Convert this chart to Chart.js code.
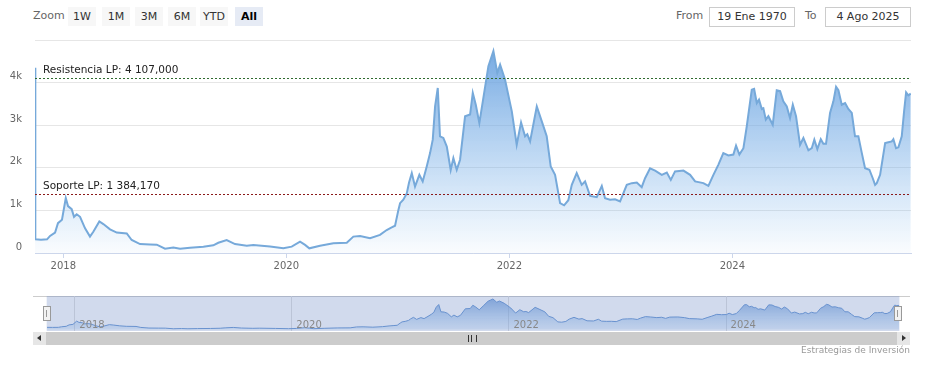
<!DOCTYPE html>
<html>
<head>
<meta charset="utf-8">
<script src="https://cdn.jsdelivr.net/npm/chart.js@4"></script>
<style>
  body { margin: 0; background: #fff; font-family: "DejaVu Sans", Verdana, sans-serif; }
  #wrap { position: relative; width: 925px; height: 365px; overflow: hidden; }
  .abs { position: absolute; }
  .lbl { font-size: 11px; color: #666; }
  .btn { position: absolute; top: 7px; width: 28px; height: 19px; line-height: 19px; text-align: center;
         font-size: 11px; color: #333; background: #f7f7f7; }
  .btn.on { background: #e6ebf5; font-weight: bold; color: #000; }
  .box { position: absolute; top: 7px; height: 18px; line-height: 18px; border: 1px solid #ccc;
         text-align: center; font-size: 11px; color: #333; background: #fff; }
  .handle { position: absolute; top: 306px; width: 6px; height: 13px; background: #f2f2f2; border: 1px solid #999; }
  .handle:after { content: ""; position: absolute; left: 2px; top: 3px; width: 1px; height: 7px;
                  border-left: 1px solid #999; }
</style>
</head>
<body>
<div id="wrap">
  <div class="abs lbl" style="left:33px;top:9px;">Zoom</div>
  <div class="btn" style="left:68px;">1W</div>
  <div class="btn" style="left:102px;">1M</div>
  <div class="btn" style="left:135px;">3M</div>
  <div class="btn" style="left:168px;">6M</div>
  <div class="btn" style="left:200px;">YTD</div>
  <div class="btn on" style="left:235px;">All</div>

  <div class="abs lbl" style="left:676px;top:9px;">From</div>
  <div class="box" style="left:709px;width:84px;">19 Ene 1970</div>
  <div class="abs lbl" style="left:805px;top:9px;">To</div>
  <div class="box" style="left:825px;width:84px;">4 Ago 2025</div>

  <canvas id="main" class="abs" width="925" height="275" style="left:0;top:0;"></canvas>

  <div class="abs" style="left:33px;top:296px;width:877px;height:1px;background:#ccc;"></div>
  <canvas id="nav" class="abs" width="925" height="45" style="left:0;top:290px;"></canvas>
  <div class="handle" style="left:43px;"></div>
  <div class="handle" style="left:894px;"></div>

  <div class="abs" style="left:33px;top:332px;width:877px;height:13px;background:#f2f2f2;"></div>
  <div class="abs" style="left:46px;top:332px;width:851px;height:13px;background:#cccccc;"></div>
  <div class="abs" style="left:468px;top:335px;width:7px;height:7px;border-left:1px solid #333;border-right:1px solid #333;"></div>
  <div class="abs" style="left:471px;top:335px;width:1px;height:7px;background:#333;"></div>
  <div class="abs" style="left:33px;top:332px;width:13px;height:13px;background:#e6e6e6;"></div>
  <div class="abs" style="left:37px;top:335px;width:0;height:0;border-top:3px solid transparent;border-bottom:3px solid transparent;border-right:4px solid #333;"></div>
  <div class="abs" style="left:897px;top:332px;width:13px;height:13px;background:#e6e6e6;"></div>
  <div class="abs" style="left:902px;top:335px;width:0;height:0;border-top:3px solid transparent;border-bottom:3px solid transparent;border-left:4px solid #333;"></div>

  <div class="abs" style="right:15px;top:345px;font-size:9px;color:#999;">Estrategias de Inversión</div>
</div>

<script>
const years = [
  2017.746, 2017.749, 2017.800, 2017.854, 2017.881, 2017.926, 2017.952, 2017.988, 2018.022, 2018.042,
  2018.075, 2018.096, 2018.120, 2018.150, 2018.195, 2018.239, 2018.269, 2018.323, 2018.359, 2018.419,
  2018.479, 2018.569, 2018.613, 2018.688, 2018.778, 2018.838, 2018.912, 2018.987, 2019.047, 2019.136,
  2019.256, 2019.345, 2019.390, 2019.465, 2019.540, 2019.645, 2019.704, 2019.854, 2019.973, 2020.048,
  2020.123, 2020.168, 2020.206, 2020.302, 2020.422, 2020.542, 2020.601, 2020.661, 2020.751, 2020.840,
  2020.900, 2020.945, 2020.975, 2021.004, 2021.020, 2021.049, 2021.080, 2021.100, 2021.125, 2021.154,
  2021.193, 2021.223, 2021.259, 2021.289, 2021.313, 2021.334, 2021.358, 2021.378, 2021.408, 2021.439,
  2021.474, 2021.498, 2021.528, 2021.558, 2021.603, 2021.648, 2021.672, 2021.699, 2021.731, 2021.767,
  2021.812, 2021.857, 2021.892, 2021.917, 2021.961, 2022.022, 2022.066, 2022.105, 2022.141, 2022.161,
  2022.186, 2022.246, 2022.291, 2022.335, 2022.371, 2022.410, 2022.455, 2022.491, 2022.529, 2022.560,
  2022.604, 2022.649, 2022.679, 2022.724, 2022.784, 2022.829, 2022.858, 2022.903, 2022.948, 2022.993,
  2023.053, 2023.098, 2023.143, 2023.187, 2023.217, 2023.262, 2023.307, 2023.367, 2023.412, 2023.448,
  2023.486, 2023.561, 2023.621, 2023.666, 2023.740, 2023.785, 2023.830, 2023.874, 2023.919, 2023.964,
  2024.009, 2024.033, 2024.063, 2024.099, 2024.129, 2024.174, 2024.195, 2024.219, 2024.239, 2024.264,
  2024.278, 2024.300, 2024.323, 2024.362, 2024.398, 2024.428, 2024.457, 2024.488, 2024.517, 2024.542,
  2024.571, 2024.607, 2024.637, 2024.682, 2024.712, 2024.735, 2024.762, 2024.793, 2024.816, 2024.840,
  2024.876, 2024.906, 2024.930, 2024.951, 2024.981, 2025.011, 2025.040, 2025.071, 2025.100, 2025.130,
  2025.161, 2025.190, 2025.229, 2025.259, 2025.280, 2025.295, 2025.325, 2025.370, 2025.399, 2025.430,
  2025.444, 2025.468, 2025.489, 2025.519, 2025.540, 2025.558, 2025.578, 2025.600
];
const prices = [
  4350, 320, 310, 320, 400, 480, 700, 780, 1290, 1100,
  1030, 850, 910, 850, 580, 385, 500, 740, 680, 555,
  480, 460, 305, 210, 200, 195, 100, 130, 100, 125,
  145, 180, 240, 305, 210, 170, 190, 150, 110, 150,
  265, 190, 110, 170, 228, 240, 385, 400, 345, 425,
  540, 600, 640, 1000, 1170, 1250, 1400, 1650, 1875, 1560,
  1835, 1680, 2030, 2345, 2660, 3440, 3875, 2740, 2700, 2500,
  1950, 2230, 1950, 2190, 3210, 3250, 3760, 3480, 3050, 3640,
  4385, 4740, 4230, 4420, 4070, 3325, 2540, 3065, 2740, 2790,
  2620, 3440, 3090, 2740, 2030, 1835, 1170, 1120, 1240, 1600,
  1875, 1600, 1680, 1340, 1310, 1575, 1285, 1250, 1260, 1210,
  1600, 1640, 1655, 1545, 1755, 1990, 1935, 1835, 1890, 1715,
  1915, 1935, 1835, 1680, 1640, 1575, 1835, 2070, 2345, 2290,
  2310, 2520, 2310, 2460, 2970, 3835, 3855, 3520, 3600, 3380,
  3400, 3130, 3210, 3010, 3820, 3800, 3560, 3440, 3170, 3480,
  3210, 2540, 2700, 2410, 2460, 2660, 2440, 2670, 2565, 2565,
  3290, 3560, 3900, 3820, 3480, 3520, 3380, 3290, 2740, 2740,
  2345, 1990, 1955, 1755, 1600, 1640, 1835, 2580, 2600, 2620,
  2670, 2460, 2480, 2740, 3325, 3770, 3700, 3740
];
const yearTicks = [2018, 2020, 2022, 2024];
const priceTicks = [0, 1000, 2000, 3000, 4000, 5000];
const xMin = 2017.746, xMax = 2025.602;

// niveles de soporte / resistencia
const levels = [
  { value: 4107, text: "Resistencia LP: 4 107,000", color: "#2f6b2f" },
  { value: 1384.17, text: "Soporte LP: 1 384,170", color: "#8b1a1a" }
];

const FONT = '"DejaVu Sans", Verdana, sans-serif';

const levelLines = {
  id: "levelLines",
  afterDatasetsDraw(chart) {
    const { ctx, chartArea, scales } = chart;
    ctx.save();
    levels.forEach(l => {
      const y = Math.round(scales.y.getPixelForValue(l.value)) + 0.5;
      ctx.strokeStyle = l.color;
      ctx.lineWidth = 1;
      ctx.setLineDash([2, 2]);
      ctx.beginPath();
      ctx.moveTo(chartArea.left, y);
      ctx.lineTo(chartArea.right, y);
      ctx.stroke();
      ctx.setLineDash([]);
      ctx.fillStyle = "#222";
      ctx.font = "10.5px " + FONT;
      ctx.textBaseline = "bottom";
      ctx.fillText(l.text, chartArea.left + 8, y - 3);
    });
    ctx.restore();
  }
};

function areaFill(ctx, top, bottom) {
  const a = ctx.chart.chartArea;
  if (!a) return "rgba(124,181,236,0.5)";
  const g = ctx.chart.ctx.createLinearGradient(0, a.top, 0, a.bottom);
  g.addColorStop(0, top);
  g.addColorStop(1, bottom);
  return g;
}

new Chart(document.getElementById("main"), {
  type: "line",
  data: {
    datasets: [{
      data: years.map((x, i) => ({ x: x, y: prices[i] })),
      borderColor: "#76a9da",
      borderWidth: 2,
      pointRadius: 0,
      fill: "origin",
      backgroundColor: c => areaFill(c, "rgba(104,160,222,0.95)", "rgba(124,181,236,0.04)")
    }]
  },
  options: {
    responsive: false,
    animation: false,
    devicePixelRatio: 1,
    layout: { padding: { top: 40, right: 14, left: 0, bottom: 0 } },
    plugins: { legend: { display: false }, tooltip: { enabled: false } },
    scales: {
      x: {
        type: "linear",
        min: xMin,
        max: xMax,
        afterBuildTicks: s => { s.ticks = yearTicks.map(v => ({ value: v })); },
        afterFit: s => { s.height = 22; },
        ticks: { color: "#666", font: { size: 10, family: FONT }, maxRotation: 0, autoSkip: false, padding: 2,
                 callback: v => String(v) },
        grid: { drawOnChartArea: false, tickLength: 5, color: "#ccd6eb" },
        border: { color: "#ccd6eb" }
      },
      y: {
        min: 0,
        max: 5000,
        afterBuildTicks: s => { s.ticks = priceTicks.map(v => ({ value: v })); },
        afterFit: s => { s.width = 35; },
        ticks: { color: "#666", font: { size: 10, family: FONT }, padding: 13, labelOffset: -6,
                 callback: v => v === 5000 ? "" : (v === 0 ? "0" : (v / 1000) + "k") },
        grid: { color: "#e6e6e6", drawTicks: false },
        border: { display: false }
      }
    }
  },
  plugins: [levelLines]
});

// navegador inferior
const navDecor = {
  id: "navDecor",
  beforeDatasetsDraw(chart) {
    const { ctx, chartArea, scales } = chart;
    ctx.save();
    ctx.strokeStyle = "#e0e0e0";
    ctx.lineWidth = 1;
    yearTicks.forEach(v => {
      const x = Math.round(scales.x.getPixelForValue(v)) + 0.5;
      ctx.beginPath();
      ctx.moveTo(x, chartArea.top);
      ctx.lineTo(x, chartArea.bottom);
      ctx.stroke();
    });
    ctx.restore();
  },
  afterDatasetsDraw(chart) {
    const { ctx, chartArea, scales } = chart;
    ctx.save();
    ctx.fillStyle = "rgba(102,133,194,0.3)";
    ctx.fillRect(chartArea.left, chartArea.top, chartArea.right - chartArea.left, chartArea.bottom - chartArea.top);
    ctx.fillStyle = "#888";
    ctx.font = "10px " + FONT;
    ctx.textBaseline = "alphabetic";
    yearTicks.forEach(v => {
      const x = scales.x.getPixelForValue(v);
      ctx.fillText(String(v), x + 5, chartArea.bottom - 3);
    });
    ctx.restore();
  }
};

new Chart(document.getElementById("nav"), {
  type: "line",
  data: {
    datasets: [{
      data: years.slice(1).map((x, i) => ({ x: x, y: prices[i + 1] })),
      borderColor: "#6a98d4",
      borderWidth: 1,
      pointRadius: 0,
      fill: "origin",
      backgroundColor: c => areaFill(c, "rgba(90,140,210,0.75)", "rgba(124,181,236,0.15)")
    }]
  },
  options: {
    responsive: false,
    animation: false,
    devicePixelRatio: 1,
    layout: { padding: { top: 6, right: 25.6, left: 46.7, bottom: 4 } },
    plugins: { legend: { display: false }, tooltip: { enabled: false } },
    scales: {
      x: { type: "linear", min: xMin, max: xMax, display: false },
      y: { min: -250, max: 5200, display: false }
    }
  },
  plugins: [navDecor]
});
</script>
</body>
</html>
